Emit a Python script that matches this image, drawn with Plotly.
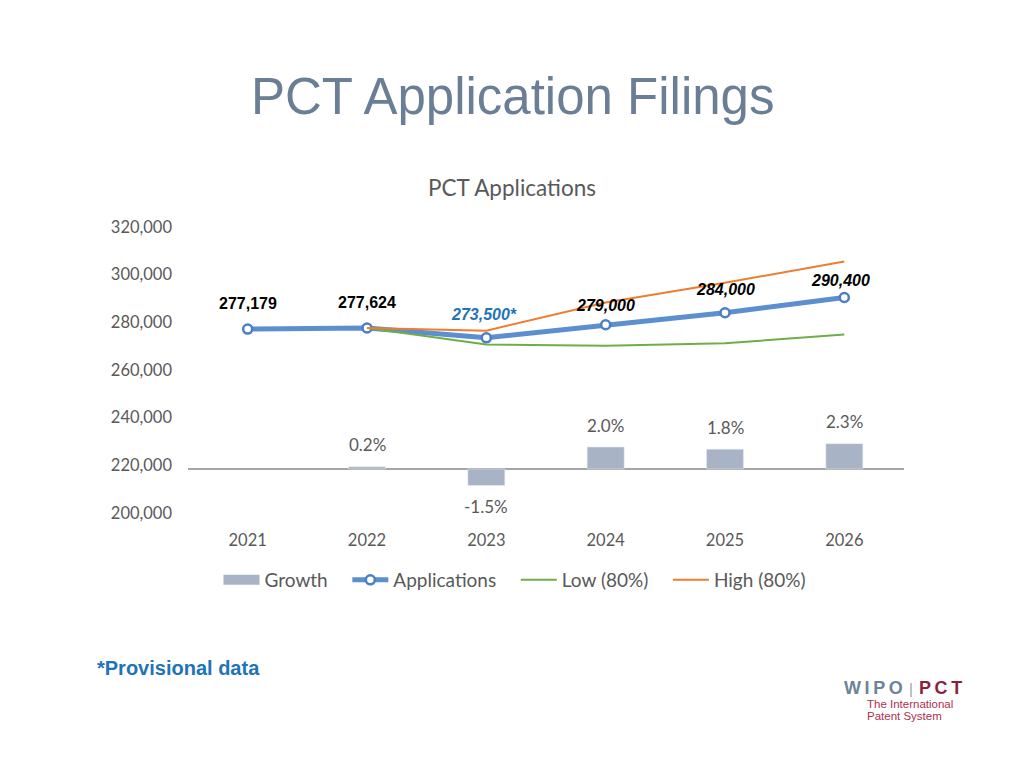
import plotly.graph_objects as go

years = ["2021", "2022", "2023", "2024", "2025", "2026"]
applications = [277179, 277624, 273500, 279000, 284000, 290400]
app_labels = ["277,179", "277,624", "273,500*", "279,000", "284,000", "290,400"]
low_80 = [None, 277624, 270700, 270200, 271200, 274900]
high_80 = [None, 277624, 276500, 288300, 296600, 305500]
growth = [None, 0.2, -1.5, 2.0, 1.8, 2.3]
growth_labels = ["", "0.2%", "-1.5%", "2.0%", "1.8%", "2.3%"]

CHART_FONT = "Lato, Open Sans, sans-serif"
ARIAL = "Liberation Sans, Arial, sans-serif"
GREY_TXT = "#595959"
BAR_COLOR = "#a8b3c6"
PAGE_OFF = 8  # body margin of the html page
PAD = "\u00a0\u00a0\u00a0"  # extra room between legend entries


def py(px_from_top):
    return 1 - (px_from_top - PAGE_OFF) / 768


def px(px_from_left):
    return (px_from_left - PAGE_OFF) / 1024


fig = go.Figure()

# legend-only entry so the Growth swatch is a wide block like the original
fig.add_trace(go.Scatter(
    x=years, y=[None] * len(years), name="Growth" + PAD, mode="lines",
    line=dict(color=BAR_COLOR, width=11), hoverinfo="skip",
))
fig.add_trace(go.Bar(
    x=years, y=growth, name="Growth", yaxis="y2", showlegend=False,
    marker=dict(color=BAR_COLOR), width=0.31,
))
fig.add_trace(go.Scatter(
    x=years, y=applications, name="Applications" + PAD, mode="lines+markers",
    line=dict(color="#5b8fd0", width=5),
    marker=dict(symbol="circle", size=9, color="white",
                line=dict(color="#4a7fc4", width=2.5)),
))
fig.add_trace(go.Scatter(
    x=years, y=low_80, name="Low (80%)" + PAD, mode="lines",
    line=dict(color="#70ad47", width=2),
))
fig.add_trace(go.Scatter(
    x=years, y=high_80, name="High (80%)", mode="lines",
    line=dict(color="#ed7d31", width=2),
))

# value labels over the applications line (x given as category index)
label_shift = [(0, 26), (0, 26), (-2, 23), (0, 19), (0, 23), (-4, 17)]
for i, (v, txt) in enumerate(zip(applications, app_labels)):
    is_prov = txt.endswith("*")
    fig.add_annotation(
        x=i, y=v, xref="x", yref="y", text=f"<b>{txt}</b>", showarrow=False,
        xshift=label_shift[i][0], yshift=label_shift[i][1],
        font=dict(family=ARIAL, size=16,
                  color="#1f73b7" if is_prov else "black",
                  style="italic" if i >= 2 else "normal"),
    )

# growth labels
for i, (g, txt) in enumerate(zip(growth, growth_labels)):
    if g is None:
        continue
    fig.add_annotation(
        x=i, y=g, xref="x", yref="y2", text=txt, showarrow=False,
        yshift=22 if g > 0 else -21,
        font=dict(family=CHART_FONT, size=17, color=GREY_TXT),
    )

# slide title and footnote
fig.add_annotation(x=px(512), y=py(97), xref="paper", yref="paper",
                   text="PCT Application Filings", showarrow=False,
                   xanchor="center", yanchor="middle",
                   font=dict(family=ARIAL, size=51, color="#6a7f95"))
fig.add_annotation(x=px(95), y=py(668), xref="paper", yref="paper",
                   text="<b>*Provisional data</b>", showarrow=False,
                   xanchor="left", yanchor="middle",
                   font=dict(family=ARIAL, size=20, color="#1f73b7"))

# WIPO | PCT mark
TS = "\u2009"
fig.add_annotation(x=px(905), y=py(688), xref="paper", yref="paper",
                   text=f"<b>W{TS}I{TS}P{TS}O</b>", showarrow=False,
                   xanchor="right", yanchor="middle",
                   font=dict(family=ARIAL, size=18, color="#6b8499"))
fig.add_annotation(x=px(911), y=py(688), xref="paper", yref="paper",
                   text="|", showarrow=False, xanchor="center", yanchor="middle",
                   font=dict(family=ARIAL, size=15, color="#a0a0a0"))
fig.add_annotation(x=px(917), y=py(688), xref="paper", yref="paper",
                   text=f"<b>P{TS}C{TS}T</b>", showarrow=False,
                   xanchor="left", yanchor="middle",
                   font=dict(family=ARIAL, size=18, color="#8c1d3c"))
fig.add_annotation(x=px(865), y=py(704), xref="paper", yref="paper",
                   text="The International", showarrow=False,
                   xanchor="left", yanchor="middle",
                   font=dict(family=ARIAL, size=11.5, color="#ad3050"))
fig.add_annotation(x=px(865), y=py(716), xref="paper", yref="paper",
                   text="Patent System", showarrow=False,
                   xanchor="left", yanchor="middle",
                   font=dict(family=ARIAL, size=11.5, color="#ad3050"))

fig.update_layout(
    width=1024, height=768,
    margin=dict(l=0, r=0, t=0, b=0, autoexpand=False),
    paper_bgcolor="white", plot_bgcolor="white",
    title=dict(text="PCT Applications", x=px(512), xanchor="center",
               y=py(188), yanchor="middle",
               font=dict(family=CHART_FONT, size=22.5, color=GREY_TXT)),
    xaxis=dict(type="category", range=[-0.5, 5.5],
               domain=[px(188), px(904)], showgrid=False,
               showline=False, zeroline=False, ticks="", ticklabelstandoff=15,
               tickfont=dict(family=CHART_FONT, size=16.5, color=GREY_TXT)),
    yaxis=dict(domain=[py(513), py(227)], range=[200000, 320000],
               dtick=20000, tickformat=",", showgrid=False, showline=False,
               zeroline=False, ticks="", ticklabelstandoff=15,
               tickfont=dict(family=CHART_FONT, size=16.5, color=GREY_TXT)),
    yaxis2=dict(overlaying="y", range=[-4, 22], showticklabels=False,
                showgrid=False, zeroline=True, zerolinecolor="#a6a6a6",
                zerolinewidth=2),
    legend=dict(orientation="h", x=px(515), xanchor="center", y=py(580),
                yanchor="middle", traceorder="normal", itemwidth=36,
                font=dict(family=CHART_FONT, size=19, color=GREY_TXT)),
    showlegend=True,
)

fig.write_html("out.html")
